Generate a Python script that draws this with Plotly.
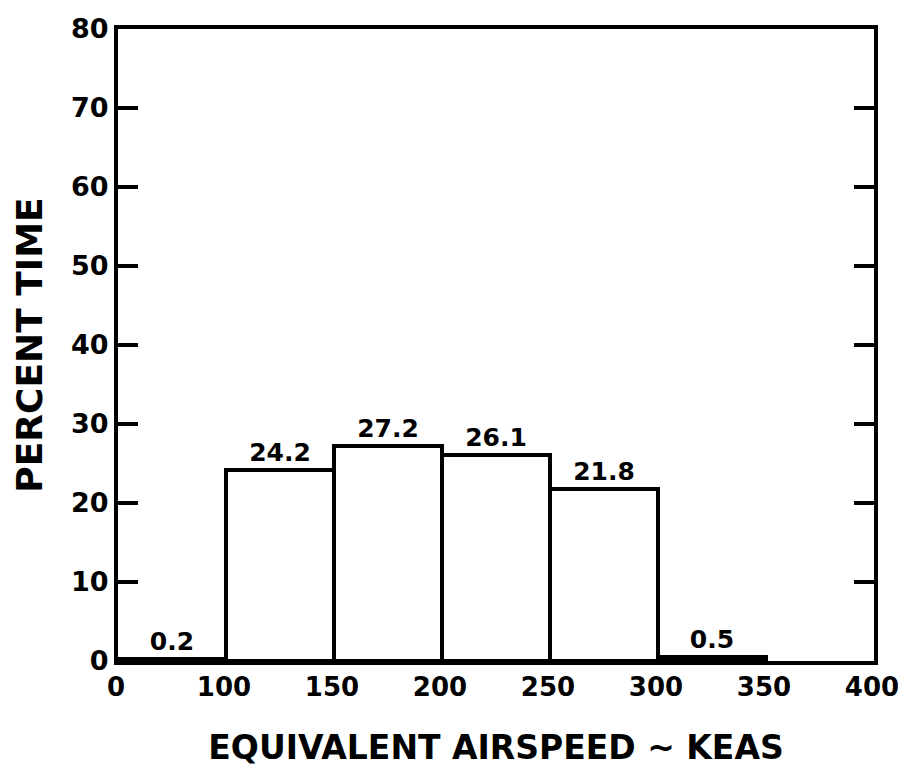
import plotly.graph_objects as go

# Data
bin_labels = ["0", "100", "150", "200", "250", "300", "350", "400"]
bin_positions = [0, 1, 2, 3, 4, 5, 6, 7]
percent_time = [0.2, 24.2, 27.2, 26.1, 21.8, 0.5]
y_ticks = [0, 10, 20, 30, 40, 50, 60, 70, 80]

FONT = "DejaVu Sans"
x_centers = [p + 0.5 for p in bin_positions[:len(percent_time)]]

fig = go.Figure()
fig.add_trace(go.Bar(
    x=x_centers,
    y=percent_time,
    width=[1] * len(percent_time),
    marker=dict(color="white", line=dict(color="black", width=4)),
    text=[f"{v}" for v in percent_time],
    textposition="outside",
    textfont=dict(family=FONT, size=25, color="black", weight="bold"),
    cliponaxis=False,
    showlegend=False,
))

# page body has an 8px margin, so the figure is sized to fit the window
fig.update_layout(
    width=898, height=764,
    margin=dict(l=110, r=32, t=21, b=111),
    plot_bgcolor="white", paper_bgcolor="white",
    font=dict(family=FONT, color="black", weight="bold"),
    bargap=0,
    uniformtext=dict(mode=False),
)
fig.update_xaxes(
    range=[0, 7], automargin=False,
    tickmode="array", tickvals=bin_positions, ticktext=bin_labels,
    ticks="", showgrid=False, zeroline=False,
    showline=True, linecolor="black", linewidth=4, mirror=True,
    tickfont=dict(family=FONT, size=26, color="black", weight="bold"),
    ticklabelshift=-2,
    title=dict(text="EQUIVALENT AIRSPEED ~ KEAS", standoff=36,
               font=dict(family=FONT, size=33, color="black", weight="bold")),
)
fig.update_yaxes(
    range=[0, 80], automargin=False,
    tickmode="array", tickvals=y_ticks,
    ticks="inside", ticklen=20, tickwidth=3.5, tickcolor="black",
    showgrid=False, zeroline=False,
    showline=True, linecolor="black", linewidth=4, mirror="ticks",
    tickfont=dict(family=FONT, size=27, color="black", weight="bold"),
    title=dict(text="PERCENT TIME", standoff=18,
               font=dict(family=FONT, size=36, color="black", weight="bold")),
)

fig.write_html("out.html")
